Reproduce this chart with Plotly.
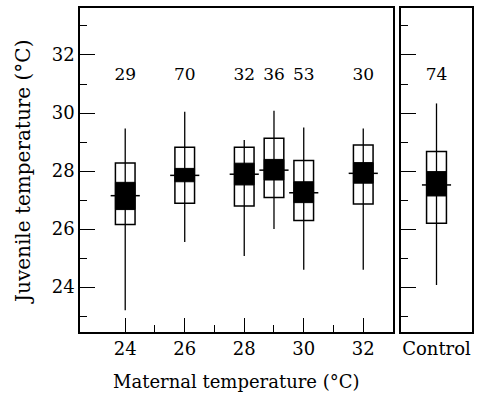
import plotly.graph_objects as go

# Data (°C)
maternal = [24, 26, 28, 29, 30, 32]
n_labels = ["29", "70", "32", "36", "53", "30"]
whisk_lo = [23.2, 25.55, 25.07, 26.0, 24.6, 24.6]
box_lo = [26.16, 26.89, 26.79, 27.09, 26.29, 26.86]
ci_lo = [26.67, 27.63, 27.52, 27.69, 26.91, 27.58]
median = [27.15, 27.85, 27.89, 28.03, 27.25, 27.92]
ci_hi = [27.61, 28.09, 28.27, 28.40, 27.63, 28.29]
box_hi = [28.28, 28.82, 28.82, 29.13, 28.36, 28.90]
whisk_hi = [29.47, 30.04, 29.07, 30.08, 29.50, 29.47]

ctrl_label = "Control"
ctrl_n = "74"
ctrl_whisk_lo = 24.07
ctrl_box_lo = 26.2
ctrl_ci_lo = 27.14
ctrl_median = 27.52
ctrl_ci_hi = 27.98
ctrl_box_hi = 28.67
ctrl_whisk_hi = 30.33

label_y = 31.3
FONT = "DejaVu Serif"

fig = go.Figure()


def add_group(xs, wlo, blo, clo, med, chi, bhi, whi, labels, xa, ya, bw, mw):
    fig.add_trace(go.Bar(x=xs, y=[h - l for h, l in zip(bhi, blo)], base=blo, width=bw,
                         marker=dict(color="white", line=dict(color="black", width=1.5)),
                         xaxis=xa, yaxis=ya, showlegend=False, hoverinfo="skip"))
    fig.add_trace(go.Bar(x=xs, y=[h - l for h, l in zip(chi, clo)], base=clo, width=bw,
                         marker=dict(color="black", line=dict(color="black", width=1)),
                         xaxis=xa, yaxis=ya, showlegend=False, hoverinfo="skip"))
    wx, wy, mx, my = [], [], [], []
    for x, a, b, m in zip(xs, wlo, whi, med):
        wx += [x, x, None]
        wy += [a, b, None]
        mx += [x - mw / 2, x + mw / 2, None]
        my += [m, m, None]
    fig.add_trace(go.Scatter(x=wx, y=wy, mode="lines", line=dict(color="black", width=1.3),
                             xaxis=xa, yaxis=ya, showlegend=False, hoverinfo="skip"))
    fig.add_trace(go.Scatter(x=mx, y=my, mode="lines", line=dict(color="black", width=1.5),
                             xaxis=xa, yaxis=ya, showlegend=False, hoverinfo="skip"))
    fig.add_trace(go.Scatter(x=xs, y=[label_y] * len(xs), mode="text", text=labels,
                             textfont=dict(family=FONT, size=17, color="black"),
                             xaxis=xa, yaxis=ya, showlegend=False, hoverinfo="skip"))


add_group(maternal, whisk_lo, box_lo, ci_lo, median, ci_hi, box_hi, whisk_hi, n_labels,
          "x", "y", 0.66, 0.98)
add_group([0.5], [ctrl_whisk_lo], [ctrl_box_lo], [ctrl_ci_lo], [ctrl_median], [ctrl_ci_hi],
          [ctrl_box_hi], [ctrl_whisk_hi], [ctrl_n], "x2", "y2", 0.28, 0.41)

W, H = 477, 395
yr = [22.45, 33.62]
yax = dict(range=yr, showline=True, mirror=True, linecolor="black", linewidth=1.5,
           ticks="inside", ticklen=15, tickwidth=1.2, tickcolor="black",
           tickmode="array", tickvals=[24, 26, 28, 30, 32],
           minor=dict(ticks="inside", ticklen=7, tickwidth=1.2, tickcolor="black",
                      tickmode="array", tickvals=[23, 25, 27, 29, 31, 33]),
           showgrid=False, zeroline=False,
           domain=[(H - 332) / H, (H - 8) / H])

fig.update_layout(
    width=W, height=H, margin=dict(l=0, r=0, t=0, b=0),
    paper_bgcolor="white", plot_bgcolor="white", barmode="overlay",
    font=dict(family=FONT, size=17, color="black"),
    xaxis=dict(range=[22.48, 33.0], domain=[80 / W, 393 / W], showline=True, mirror=True,
               linecolor="black", linewidth=1.5, ticks="inside", ticklen=14, tickwidth=1.2,
               tickcolor="black", tickmode="array", tickvals=[24, 26, 28, 30, 32],
               minor=dict(ticks="inside", ticklen=7, tickwidth=1.2, tickcolor="black",
                          tickmode="array", tickvals=[25, 27, 29, 31]),
               showgrid=False, zeroline=False, tickfont=dict(size=18), anchor="y"),
    yaxis=dict(**yax, tickfont=dict(size=18), anchor="x"),
    xaxis2=dict(range=[0, 1], domain=[401 / W, 472 / W], showline=True, mirror=True,
                linecolor="black", linewidth=1.5, ticks="", tickmode="array", tickvals=[0.5],
                ticktext=[ctrl_label], showgrid=False, zeroline=False,
                tickfont=dict(size=18), anchor="y2"),
    yaxis2=dict(**yax, showticklabels=False, anchor="x2"),
    annotations=[
        dict(text="Maternal temperature (°C)", x=(80 + 393) / 2 / W, y=(H - 381) / H,
             xref="paper", yref="paper", showarrow=False, font=dict(size=18),
             xanchor="center", yanchor="middle"),
        dict(text="Juvenile temperature (°C)", x=23 / W, y=(H - 172) / H, textangle=-90,
             xref="paper", yref="paper", showarrow=False, font=dict(size=20),
             xanchor="center", yanchor="middle"),
    ],
)

fig.write_html("out.html")
